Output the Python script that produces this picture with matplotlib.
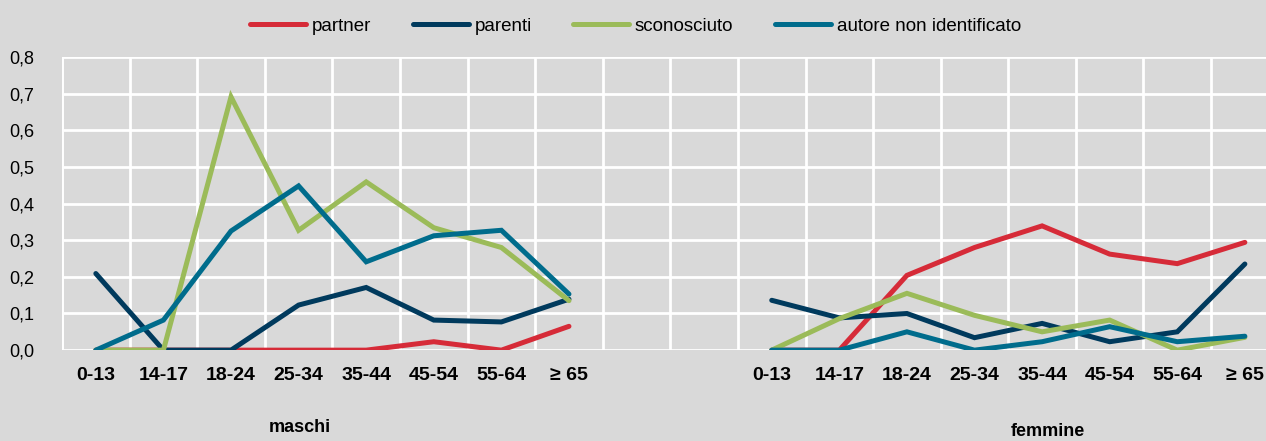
import numpy as np
import matplotlib.pyplot as plt

eta = ["0-13", "14-17", "18-24", "25-34", "35-44", "45-54", "55-64", "≥ 65"]
serie = ["partner", "parenti", "sconosciuto", "autore non identificato"]
colori = ["#D62B38", "#003A5D", "#9BBB59", "#006C8C"]

# maschi
m_partner = [0, 0, 0, 0, 0, 0.023, 0, 0.065]
m_parenti = [0.209, 0, 0, 0.123, 0.171, 0.082, 0.077, 0.139]
m_sconosciuto = [0, 0, 0.691, 0.327, 0.459, 0.334, 0.28, 0.135]
m_autore = [0, 0.082, 0.325, 0.448, 0.241, 0.312, 0.327, 0.153]

# femmine
f_partner = [0, 0, 0.204, 0.28, 0.339, 0.262, 0.236, 0.294]
f_parenti = [0.136, 0.088, 0.1, 0.034, 0.073, 0.023, 0.05, 0.235]
f_sconosciuto = [0, 0.086, 0.155, 0.095, 0.05, 0.082, 0, 0.035]
f_autore = [0, 0, 0.05, 0, 0.023, 0.064, 0.023, 0.038]

maschi = [m_partner, m_parenti, m_sconosciuto, m_autore]
femmine = [f_partner, f_parenti, f_sconosciuto, f_autore]

plt.rcParams['font.family'] = ['Liberation Sans', 'DejaVu Sans']

bg = "#D9D9D9"
fig = plt.figure(figsize=(12.66, 4.41), dpi=100, facecolor=bg)
ax = fig.add_axes([0.049, 0.206, 0.961, 0.665])
ax.set_facecolor(bg)

n = len(eta)
x_m = np.arange(n)
x_f = np.arange(n) + n + 2

for i in range(len(serie)):
    ax.plot(x_m, maschi[i], color=colori[i], lw=3.6, solid_capstyle='round',
            solid_joinstyle='miter', label=serie[i], zorder=3)
    ax.plot(x_f, femmine[i], color=colori[i], lw=3.6, solid_capstyle='round',
            solid_joinstyle='miter', zorder=3)

ax.set_xlim(-0.5, 2 * n + 1.5)
ax.set_ylim(0, 0.8)
ax.set_yticks(np.arange(0, 0.81, 0.1))
ax.set_yticklabels([f"{v:.1f}".replace(".", ",") for v in np.arange(0, 0.81, 0.1)],
                   fontsize=13)

ax.set_xticks(np.concatenate([x_m, x_f]))
ax.set_xticklabels(eta + eta, fontsize=14, fontweight='bold')
ax.set_xticks(np.arange(-0.5, 2 * n + 2, 1), minor=True)

ax.tick_params(axis='both', which='both', length=0)
ax.tick_params(axis='x', pad=12)
ax.tick_params(axis='y', pad=20)
ax.grid(True, which='minor', axis='x', color='white', lw=2)
ax.grid(True, which='major', axis='y', color='white', lw=2)
ax.set_axisbelow(True)
for s in ax.spines.values():
    s.set_visible(False)
ax.axvline(-0.5, color='white', lw=2, zorder=1)

fig.text(300 / 1266, 1 - 427 / 441, "maschi", ha='center', va='center',
         fontsize=13, fontweight='bold')
fig.text(1048 / 1266, 1 - 431 / 441, "femmine", ha='center', va='center',
         fontsize=13, fontweight='bold')

fig.legend(loc='center', bbox_to_anchor=(0.502, 1 - 26 / 441), ncol=4,
           frameon=False, fontsize=13.5, handlelength=3.0, handletextpad=0.3,
           columnspacing=2.2)

fig.savefig("out.png", dpi=100, facecolor=bg)
